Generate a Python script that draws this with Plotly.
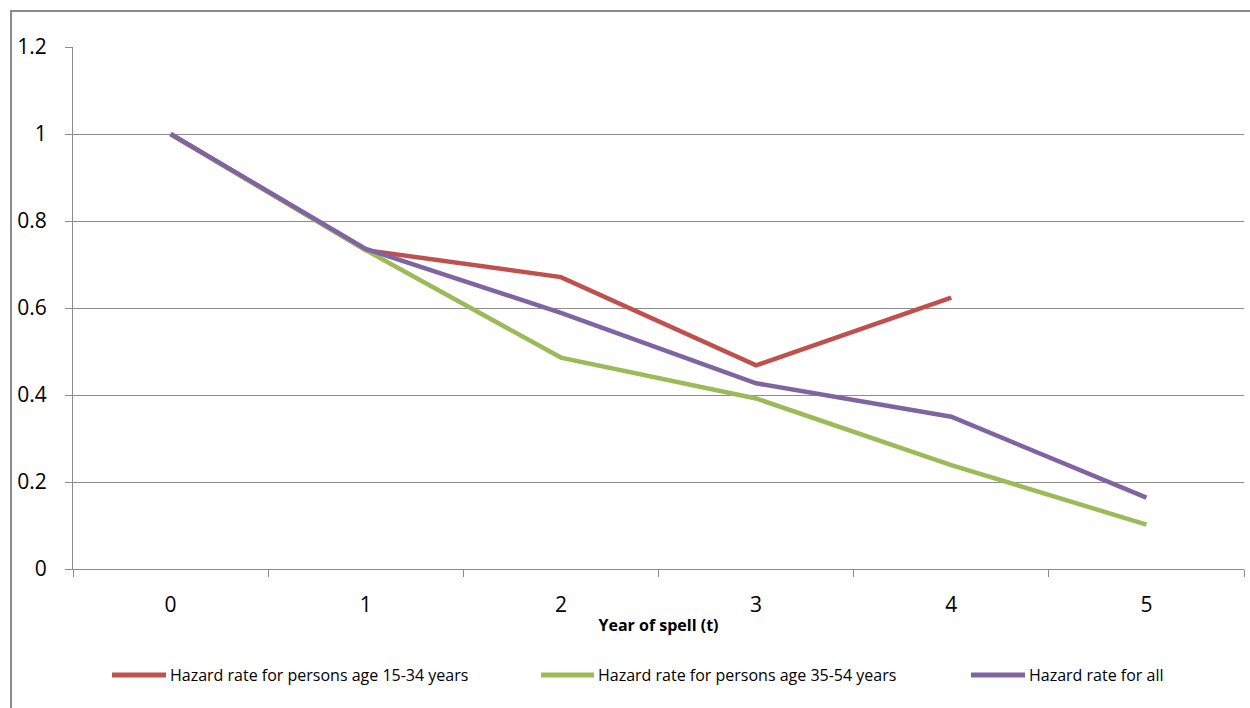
import plotly.graph_objects as go

# Year of spell categories
years = [0, 1, 2, 3, 4, 5]
year_labels = ["0", "1", "2", "3", "4", "5"]

# Hazard rates by group
hazard_15_34 = [1.0, 0.733, 0.671, 0.468, 0.624, None]
hazard_35_54 = [1.0, 0.733, 0.486, 0.392, 0.239, 0.102]
hazard_all = [1.0, 0.736, 0.589, 0.427, 0.350, 0.164]

series_names = [
    "Hazard rate for persons age 15-34 years",
    "Hazard rate for persons age 35-54 years",
    "Hazard rate for all",
]
series_values = [hazard_15_34, hazard_35_54, hazard_all]
series_colors = ["#C0504D", "#9BBB59", "#8064A2"]

y_ticks = [0, 0.2, 0.4, 0.6, 0.8, 1.0, 1.2]
y_tick_labels = ["0", "0.2", "0.4", "0.6", "0.8", "1", "1.2"]

FONT = "Open Sans, Lato, sans-serif"
GRID = "#8C8C8C"

W, H = 1250, 708
L, R, T, B = 73, 6, 47, 139
PW, PH = W - L - R, H - T - B


def px_x(x):
    return (x - L) / PW


def px_y(y):
    return (H - B - y) / PH


fig = go.Figure()
for name, vals, col in zip(series_names, series_values, series_colors):
    fig.add_trace(go.Scatter(
        x=years, y=vals, name=name, mode="lines",
        line=dict(color=col, width=4.5),
        showlegend=False, connectgaps=False,
    ))

# Legend drawn below the plot: line sample + label
legend_pos = [(112, 166), (541, 594), (971, 1025)]
legend_y = px_y(675)
shapes = []
annotations = []
for (x0, x1), name, col in zip(legend_pos, series_names, series_colors):
    shapes.append(dict(type="line", xref="paper", yref="paper",
                       x0=px_x(x0), x1=px_x(x1), y0=legend_y, y1=legend_y,
                       line=dict(color=col, width=5)))
    annotations.append(dict(xref="paper", yref="paper", x=px_x(x1 + 2), y=legend_y,
                            text=name, showarrow=False, xanchor="left",
                            yanchor="middle",
                            font=dict(family=FONT, size=16, color="#000")))

# Outer chart border
shapes.append(dict(type="rect", xref="paper", yref="paper",
                   x0=px_x(11), x1=px_x(1270), y0=px_y(730), y1=px_y(11),
                   line=dict(color="#8A8A8A", width=2), layer="below"))

fig.update_layout(
    width=W, height=H,
    margin=dict(l=L, r=R, t=T, b=B),
    paper_bgcolor="white", plot_bgcolor="white",
    font=dict(family=FONT, color="#000"),
    shapes=shapes, annotations=annotations,
    xaxis=dict(
        range=[-0.5, 5.5], tickvals=years, ticktext=year_labels,
        ticks="", showgrid=False, showline=True, linecolor=GRID, linewidth=1,
        tickfont=dict(family=FONT, size=21), ticklabelstandoff=17,
        minor=dict(ticks="outside", tick0=-0.5, dtick=1, ticklen=7,
                   tickcolor=GRID, tickwidth=1, showgrid=False),
        title=dict(text="<b>Year of spell (t)</b>",
                   font=dict(family=FONT, size=16), standoff=2),
        zeroline=False, fixedrange=True,
    ),
    yaxis=dict(
        range=[0, 1.2], tickvals=y_ticks, ticktext=y_tick_labels,
        ticks="outside", ticklen=7, tickcolor=GRID,
        showgrid=True, gridcolor=GRID, gridwidth=1,
        showline=True, linecolor=GRID, linewidth=1,
        tickfont=dict(family=FONT, size=21), ticklabelstandoff=14,
        zeroline=False, fixedrange=True,
    ),
)

fig.write_html("out.html")
